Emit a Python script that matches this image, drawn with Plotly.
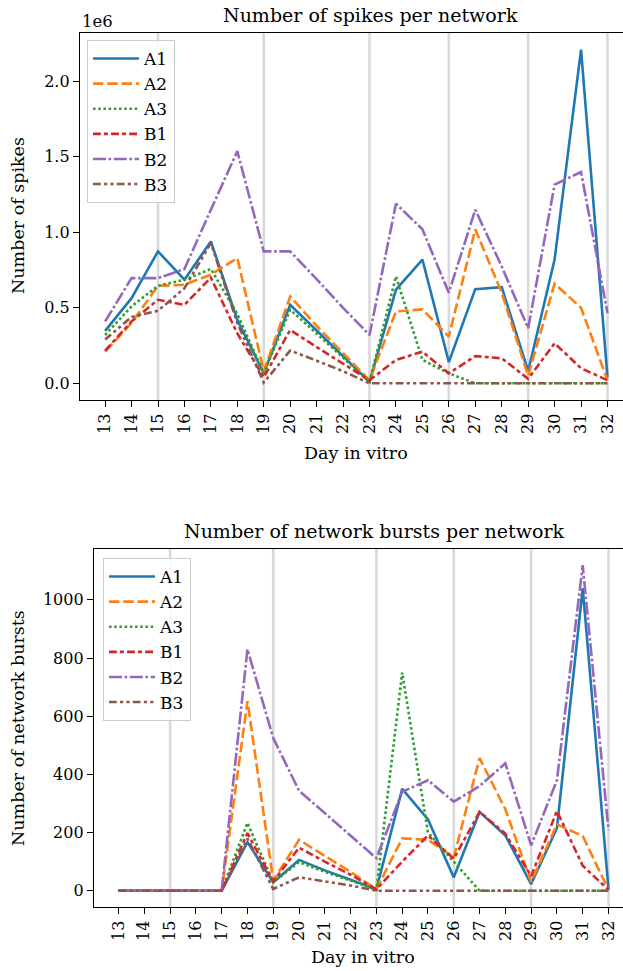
import plotly.graph_objects as go

# Day in vitro for every recording
days = list(range(13, 33))

# Days on which the medium was changed (drawn as light vertical rules)
medium_change_days = [15, 19, 23, 26, 29, 32]

network_names = ["A1", "A2", "A3", "B1", "B2", "B3"]

# Total number of spikes per network
spikes_A1 = [347000, 564000, 874000, 686000, 940000, 420000, 66000, 520000, 350000, 180000,
             10000, 620000, 820000, 140000, 624000, 637000, 80000, 820000, 2210000, 40000]
spikes_A2 = [210000, 400000, 646000, 653000, 720000, 830000, 80000, 575000, 380000, 200000,
             20000, 476000, 490000, 310000, 1020000, 600000, 50000, 660000, 500000, 20000]
spikes_A3 = [320000, 510000, 646000, 686000, 757000, 460000, 66000, 487000, 330000, 170000,
             10000, 708000, 155000, 66000, 0, 0, 0, 0, 0, 0]
spikes_B1 = [217000, 410000, 553000, 520000, 700000, 330000, 40000, 354000, 240000, 130000,
             20000, 155000, 210000, 66000, 180000, 166000, 30000, 265000, 100000, 20000]
spikes_B2 = [410000, 697000, 697000, 757000, 1150000, 1538000, 874000, 874000, 690000, 500000,
             320000, 1190000, 1020000, 600000, 1150000, 774000, 365000, 1316000, 1400000, 465000]
spikes_B3 = [290000, 440000, 480000, 630000, 930000, 400000, 5000, 217000, 150000, 80000,
             0, 0, 0, 0, 0, 0, 0, 0, 0, 0]

# Number of network bursts per network
bursts_A1 = [0, 0, 0, 0, 0, 167, 29, 106, 70, 38, 5, 350, 245, 46, 271, 190, 23, 215, 1040, 5]
bursts_A2 = [0, 0, 0, 0, 0, 652, 35, 175, 120, 65, 5, 180, 175, 115, 456, 280, 30, 228, 188, 3]
bursts_A3 = [0, 0, 0, 0, 0, 233, 29, 98, 65, 35, 3, 750, 200, 100, 0, 0, 0, 0, 0, 0]
bursts_B1 = [0, 0, 0, 0, 0, 198, 32, 148, 100, 55, 5, 100, 190, 110, 271, 196, 50, 274, 86, 3]
bursts_B2 = [0, 0, 0, 0, 0, 830, 525, 344, 267, 190, 112, 340, 380, 306, 360, 438, 156, 380, 1119, 208]
bursts_B3 = [0, 0, 0, 0, 0, 179, 6, 46, 32, 18, 0, 0, 0, 0, 0, 0, 0, 0, 0, 0]

spikes = [spikes_A1, spikes_A2, spikes_A3, spikes_B1, spikes_B2, spikes_B3]
bursts = [bursts_A1, bursts_A2, bursts_A3, bursts_B1, bursts_B2, bursts_B3]

colors = ["#1f77b4", "#ff7f0e", "#2ca02c", "#d62728", "#9467bd", "#8c564b"]
LW = 2.6
# dash segments in units of line width
dash_units = [
    None,
    (4, 1.5),
    (1, 1),
    (3, 1.25, 1.5, 1.25),
    (5, 1, 1, 1),
    (3, 1.25, 1.25, 1.25, 1.25, 1.25),
]


def dash_of(spec):
    if spec is None:
        return "solid"
    return ",".join(f"{s * LW:.1f}px" for s in spec)


FONT = "DejaVu Serif"
W, H = 623, 971

fig = go.Figure()

for i, name in enumerate(network_names):
    fig.add_trace(go.Scatter(
        x=days, y=spikes[i], mode="lines", name=name,
        line=dict(color=colors[i], width=LW, dash=dash_of(dash_units[i])),
        xaxis="x", yaxis="y", legend="legend",
    ))
for i, name in enumerate(network_names):
    fig.add_trace(go.Scatter(
        x=days, y=bursts[i], mode="lines", name=name,
        line=dict(color=colors[i], width=LW, dash=dash_of(dash_units[i])),
        xaxis="x2", yaxis="y2", legend="legend2",
    ))


def px_to_paper_y(py):
    return 1 - py / H


# vertical rules behind the data
shapes = []
for xr, yr in (("x", "y domain"), ("x2", "y2 domain")):
    for d in medium_change_days:
        shapes.append(dict(type="line", xref=xr, yref=yr, x0=d, x1=d, y0=0, y1=1,
                           line=dict(color="#d9d9d9", width=2.6), layer="below"))

spike_max = max(max(s) for s in spikes)
burst_max = max(max(b) for b in bursts)

axis_common = dict(
    showline=True, linecolor="black", linewidth=1.3,
    ticks="outside", ticklen=6, tickwidth=1.3, tickcolor="black",
    showgrid=False, zeroline=False,
    tickfont=dict(family=FONT, size=16, color="black"),
)

legend_common = dict(
    xanchor="left", yanchor="top", itemwidth=46,
    bgcolor="rgba(255,255,255,0.8)", bordercolor="#cccccc", borderwidth=1,
    font=dict(family=FONT, size=17, color="black"),
)

fig.update_layout(
    width=W, height=H,
    margin=dict(l=0, r=0, t=0, b=0),
    paper_bgcolor="white", plot_bgcolor="white",
    font=dict(family=FONT, size=16, color="black"),
    showlegend=True,
    xaxis=dict(domain=[80 / W, 1], range=[12.05, 12.05 + (W - 80) / 26.44],
               tickmode="array", tickvals=days, ticktext=[str(d) for d in days],
               tickangle=-90, mirror=True, anchor="y", **axis_common),
    yaxis=dict(domain=[px_to_paper_y(400), px_to_paper_y(33)],
               range=[-0.05 * spike_max, 1.05 * spike_max],
               tickmode="array", tickvals=[0, 5e5, 1e6, 1.5e6, 2e6],
               ticktext=["0.0", "0.5", "1.0", "1.5", "2.0"], anchor="x", **axis_common),
    xaxis2=dict(domain=[94 / W, 1], range=[12.05, 12.05 + (W - 94) / 25.79],
                tickmode="array", tickvals=days, ticktext=[str(d) for d in days],
                tickangle=-90, mirror=True, anchor="y2", **axis_common),
    yaxis2=dict(domain=[px_to_paper_y(907), px_to_paper_y(549)],
                range=[-0.05 * burst_max, 1.05 * burst_max],
                tickmode="array", tickvals=[0, 200, 400, 600, 800, 1000],
                anchor="x2", **axis_common),
    legend=dict(x=87 / W, y=px_to_paper_y(40), **legend_common),
    legend2=dict(x=103 / W, y=px_to_paper_y(558), **legend_common),
    shapes=shapes,
)

texts = [
    ("Number of spikes per network", 370, 15, 0, 19),
    ("1e6", 97, 21, 0, 16.5),
    ("Number of spikes", 18, 216, -90, 17.5),
    ("Day in vitro", 356, 453, 0, 17.5),
    ("Number of network bursts per network", 374, 531, 0, 19),
    ("Number of network bursts", 18, 728, -90, 17.5),
    ("Day in vitro", 363, 957, 0, 17.5),
]
for txt, px, py, ang, sz in texts:
    fig.add_annotation(text=txt, xref="paper", yref="paper", x=px / W, y=px_to_paper_y(py),
                       xanchor="center", yanchor="middle", showarrow=False, textangle=ang,
                       font=dict(family=FONT, size=sz, color="black"))

fig.write_html("out.html")
